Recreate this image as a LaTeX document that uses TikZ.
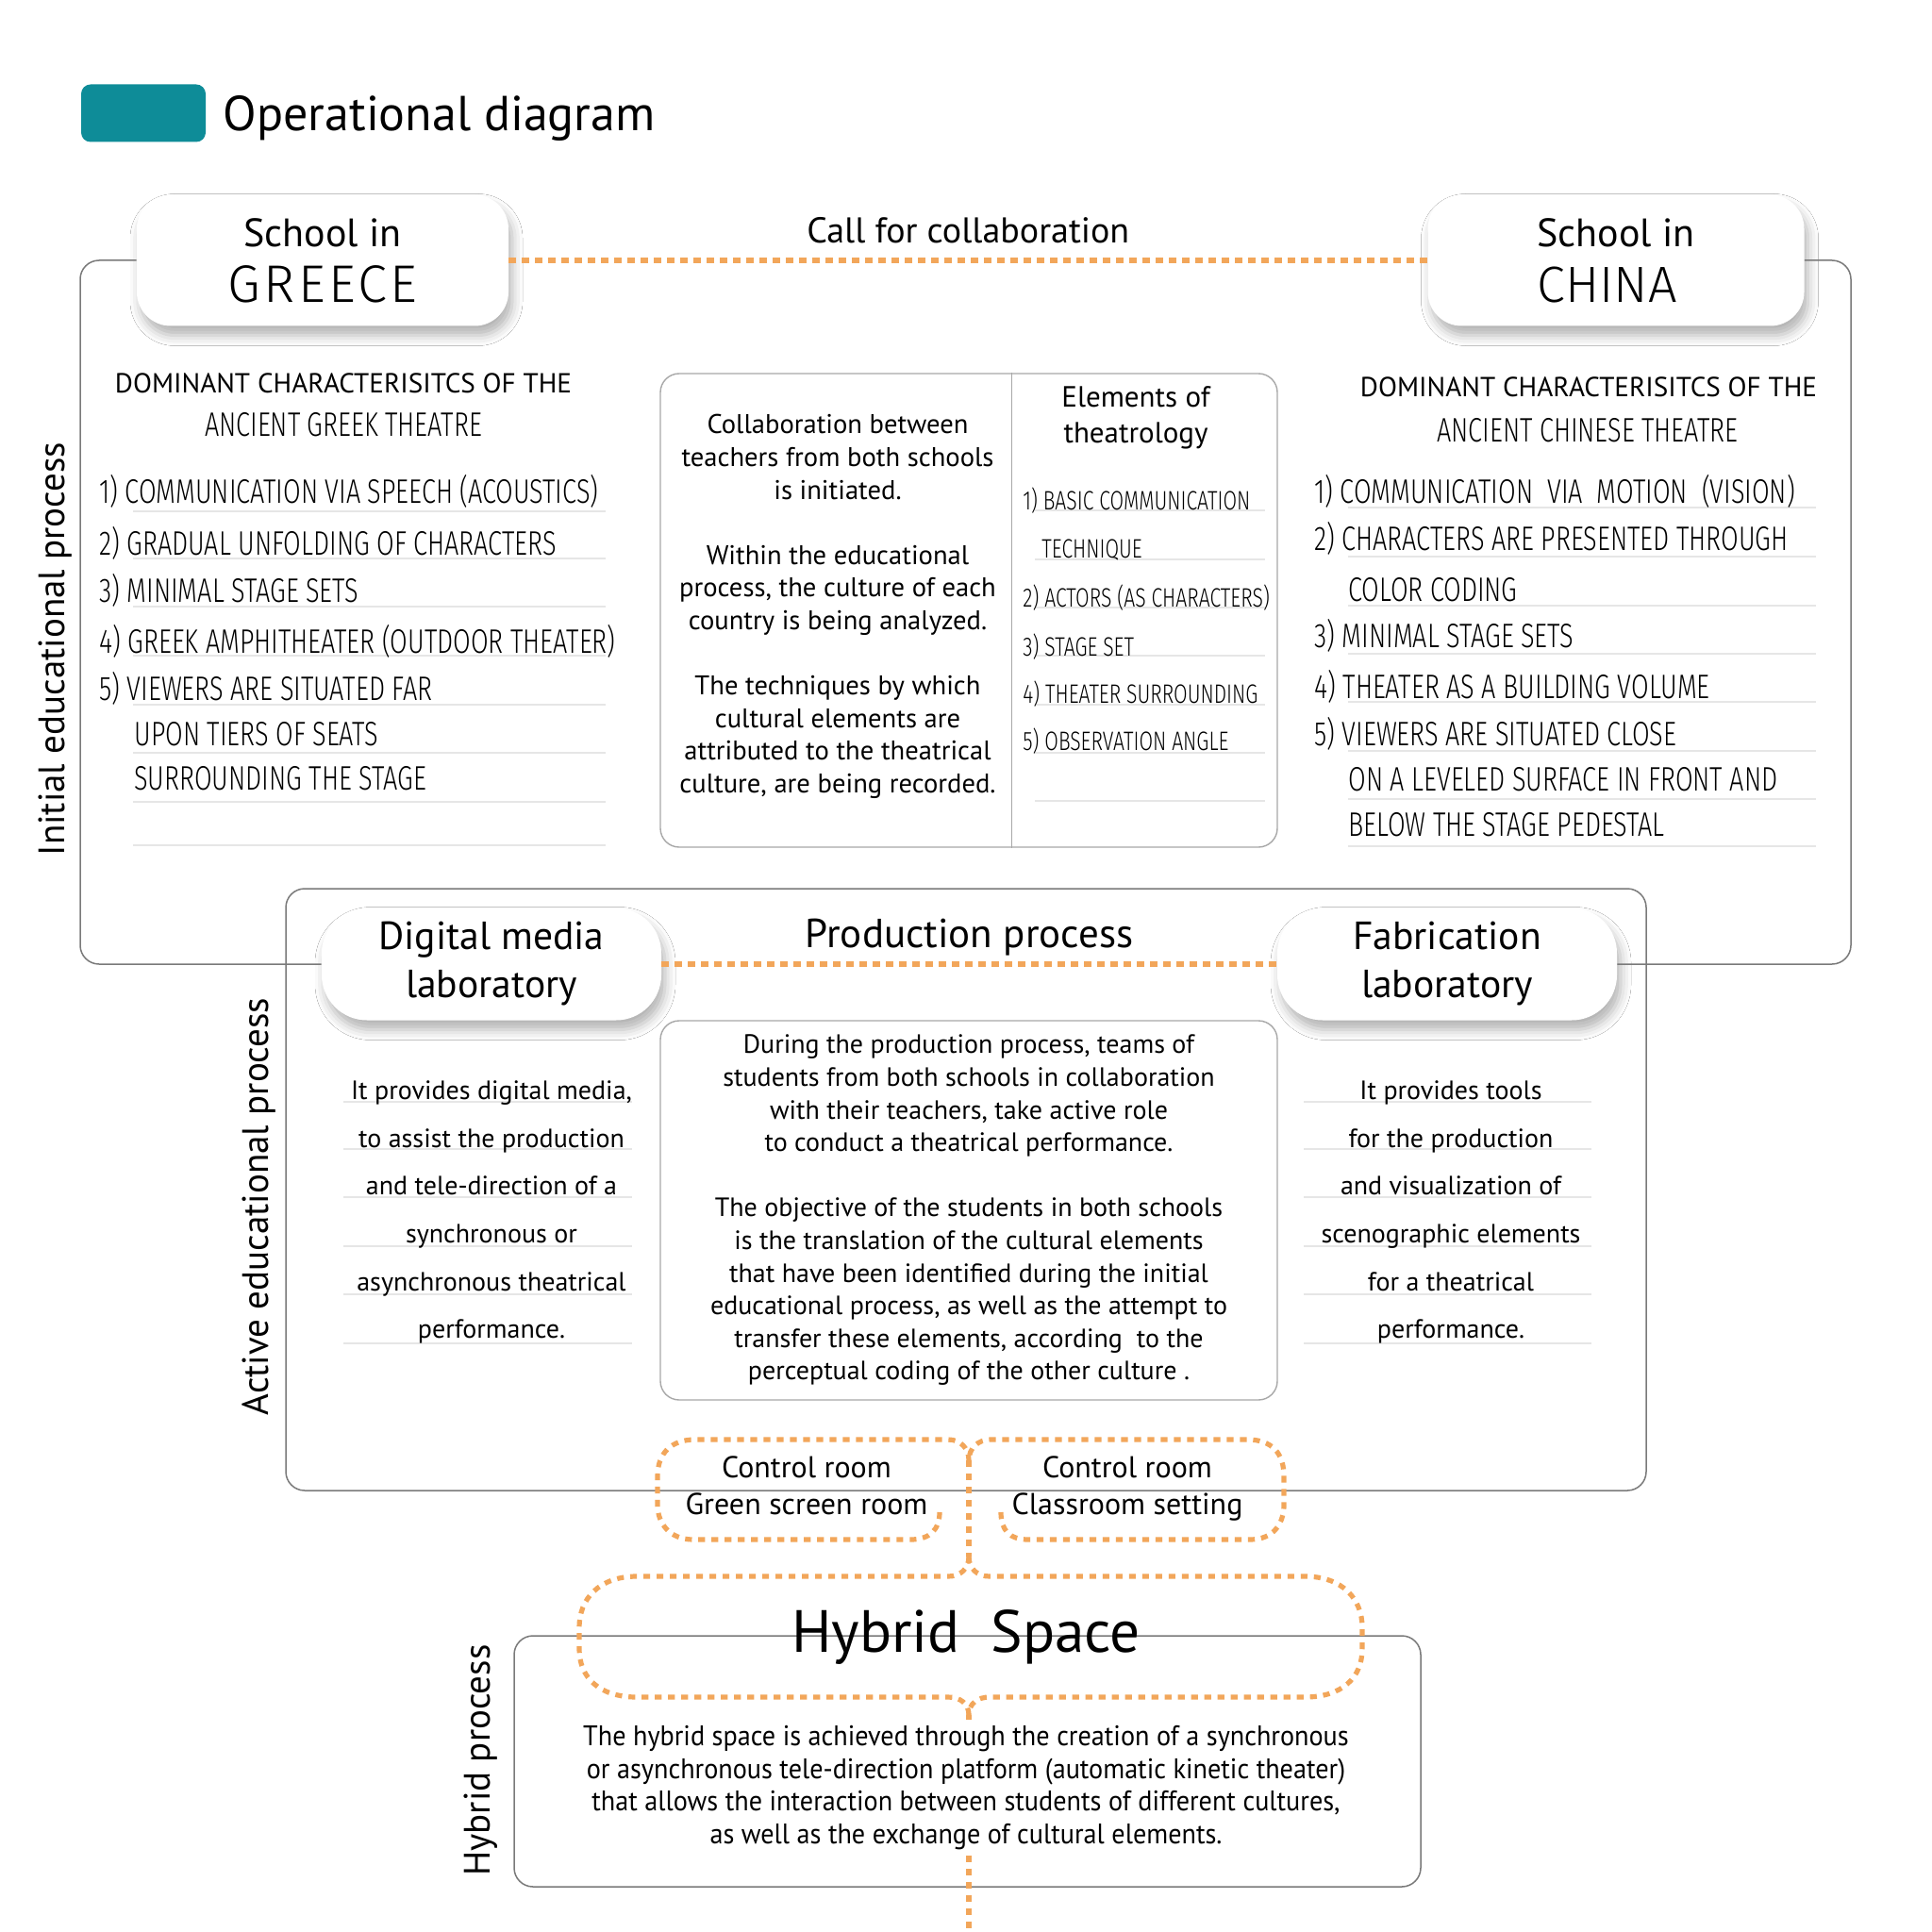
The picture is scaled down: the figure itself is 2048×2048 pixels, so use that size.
\documentclass[tikz,border=0pt]{standalone}
\usepackage{fontspec}
\setmainfont{PT Sans}
\newfontfamily\handfont[FakeStretch=0.75]{Fira Sans Light}
\newfontfamily\handwide{Fira Sans Light}
\newfontfamily\condfont[FakeStretch=0.94]{PT Sans}
\usepackage{xcolor}
\usetikzlibrary{positioning,calc,shadows.blur}

\definecolor{tealbar}{HTML}{0E8C98}
\definecolor{dotorange}{HTML}{F2A65A}
\definecolor{framegray}{HTML}{7A7A7A}
\definecolor{panelgray}{HTML}{A8A8A8}
\definecolor{rulegray}{HTML}{E6E6E6}

\tikzset{
  outerframe/.style={draw=framegray, line width=0.75pt, rounded corners=10pt},
  panel/.style={draw=panelgray, line width=0.7pt, rounded corners=10pt},
  school/.style={rectangle, fill=white, rounded corners=18pt, minimum width=197pt, minimum height=69.5pt, align=center,
    blur shadow={shadow xshift=2pt, shadow yshift=-5pt, shadow blur radius=5.5pt, shadow opacity=30},
    font=\fontsize{21}{29.5}\selectfont},
  lab/.style={school, rounded corners=24pt, minimum width=180pt, minimum height=59.5pt, font=\fontsize{20.8}{25.5}\selectfont},
  orangedots/.style={draw=dotorange, line width=2.6pt, dash pattern=on 3.6pt off 3.4pt},
  hand/.style={inner sep=0pt, anchor=base west, font=\handfont\fontsize{18}{18}\selectfont},
  handsmall/.style={hand, font=\handfont\fontsize{14.1}{14.1}\selectfont},
  underrule/.style={draw=rulegray, line width=0.8pt},
  body/.style={inner sep=0pt, align=center, font=\fontsize{14}{17.3}\selectfont},
  sidelabel/.style={inner sep=0pt, rotate=90, font=\fontsize{19.5}{22}\selectfont},
  plain/.style={inner sep=0pt, align=center}
}

\begin{document}
\begin{tikzpicture}[x=0.5pt, y=-0.5pt]
  \fill[white] (0,0) rectangle (2048,2048);
  \useasboundingbox (0,0) rectangle (2048,2048);

  % title
  \node[fill=tealbar, rounded corners=5pt, minimum width=66pt, minimum height=30.5pt, inner sep=0pt] (tab) at (152,120) {};
  \node[right=9pt of tab, yshift=-3pt, inner sep=0pt, font=\fontsize{26}{30}\selectfont] (title) {Operational diagram};

  % schools and labs
  \node[school] (greece) at (342,276) {School in\\{\handwide\fontsize{28}{29.5}\selectfont\addfontfeature{LetterSpace=6}GREECE}};
  \node[school, align=left, minimum width=199.5pt] (china) at (1713,276) {School in\\{\handwide\fontsize{27}{29.5}\selectfont CHINA}};
  \node[lab] (digital) at (521,1022) {Digital media\\laboratory};
  \node[lab] (fab) at (1534,1022) {Fabrication\\laboratory};

  % frames
  \draw[outerframe] (greece.west) -| (85,1022) -- (digital.west);
  \draw[outerframe] (china.east) -| (1962,1022) -- (fab.east);
  \draw[outerframe] (303,942) rectangle (1745,1580);
  \draw[outerframe] (545,1734) rectangle (1506,2000);

  % links between the pairs
  \draw[orangedots] (greece.east) -- node[above=7.5pt, plain, font=\fontsize{19}{22}\selectfont] (callcollab) {Call for collaboration} (china.west);
  \draw[orangedots] (digital.east) -- node[above=3pt, plain, font=\fontsize{21.5}{25}\selectfont] (prodtitle) {Production process} (fab.west);

  % side labels
  \node[sidelabel] (initlabel) at (59,688) {Initial educational process};
  \node[sidelabel] (activelabel) at (275,1279) {Active educational process};
  \node[sidelabel] (hybridlabel) at (510,1866) {Hybrid process};

  % greek column
  \node[plain, anchor=base, font=\fontsize{14.6}{16}\selectfont] (gkhead) at (364,417) {DOMINANT CHARACTERISITCS OF THE};
  \node[plain, anchor=base, font=\handfont\fontsize{18}{18}\selectfont] (gkname) at (364,463) {ANCIENT GREEK THEATRE};
  \foreach \uy in {542,592,643,695,747,798,850,896}
    \draw[underrule] (141,\uy) -- (642,\uy);
  \foreach \ly/\lx/\lt [count=\i] in {533/105/{1) COMMUNICATION VIA SPEECH (ACOUSTICS)},
      588/105/{2) GRADUAL UNFOLDING OF CHARACTERS}, 638/105/{3) MINIMAL STAGE SETS},
      692/105/{4) GREEK AMPHITHEATER (OUTDOOR THEATER)}, 742/105/{5) VIEWERS ARE SITUATED FAR},
      790/142/{UPON TIERS OF SEATS}, 837/142/{SURROUNDING THE STAGE}}
    \node[hand] (gk\i) at (\lx,\ly) {\lt};

  % chinese column
  \node[plain, anchor=base, font=\fontsize{14.6}{16}\selectfont] (cnhead) at (1684,421) {DOMINANT CHARACTERISITCS OF THE};
  \node[plain, anchor=base, font=\handfont\fontsize{18}{18}\selectfont] (cnname) at (1683,468) {ANCIENT CHINESE THEATRE};
  \foreach \uy in {538,590,642,693,744,796,847,897}
    \draw[underrule] (1429,\uy) -- (1925,\uy);
  \foreach \ly/\lx/\lt [count=\i] in {533/1393/{1) COMMUNICATION\ \ VIA\ \ MOTION\ \ (VISION)},
      583/1393/{2) CHARACTERS ARE PRESENTED THROUGH}, 637/1429/{COLOR CODING},
      686/1393/{3) MINIMAL STAGE SETS}, 740/1393/{4) THEATER AS A BUILDING VOLUME},
      790/1393/{5) VIEWERS ARE SITUATED CLOSE}, 838/1429/{ON A LEVELED SURFACE IN FRONT AND},
      886/1429/{BELOW THE STAGE PEDESTAL}}
    \node[hand] (cn\i) at (\lx,\ly) {\lt};

  % collaboration panel
  \node[panel, minimum width=327pt, minimum height=251pt] (collab) at (1027,647) {};
  \draw[draw=panelgray, line width=0.7pt] ($(collab.north west)!0.569!(collab.north east)$) -- ($(collab.south west)!0.569!(collab.south east)$);
  \node[body, font=\fontsize{14.3}{17.3}\selectfont] (collabtext) at (888,643) {Collaboration between\\teachers from both schools\\is initiated.\\[17.3pt]Within the educational\\process, the culture of each\\country is being analyzed.\\[17.3pt]The techniques by which\\cultural elements are\\attributed to the theatrical\\culture, are being recorded.};
  \node[plain, font=\fontsize{15.5}{19}\selectfont] (elements) at (1204,443) {Elements of\\theatrology};
  \foreach \uy in {541,593,644,695,747,798,849}
    \draw[underrule] (1097,\uy) -- (1341,\uy);
  \foreach \ly/\lx/\lt [count=\i] in {540/1084/{1) BASIC COMMUNICATION}, 591/1104/{TECHNIQUE},
      643/1084/{2) ACTORS (AS CHARACTERS)}, 695/1084/{3) STAGE SET},
      745/1084/{4) THEATER SURROUNDING}, 795/1084/{5) OBSERVATION ANGLE}}
    \node[handsmall] (el\i) at (\lx,\ly) {\lt};

  % production
  \node[panel, minimum width=327pt, minimum height=201pt, body] (prodbox) at (1027,1283) {During the production process, teams of\\students from both schools in collaboration\\with their teachers, take active role\\to conduct a theatrical performance.\\[17.3pt]The objective of the students in both schools\\is the translation of the cultural elements\\that have been identified during the initial\\educational process, as well as the attempt to\\transfer these elements, according\ \ to the\\perceptual coding of the other culture .};

  \foreach \uy in {1168,1218,1269,1321,1372,1424} {
    \draw[underrule] (364,\uy) -- (670,\uy);
    \draw[underrule] (1382,\uy) -- (1687,\uy);
  }
  \node[body, font=\fontsize{14}{25.3}\selectfont] (digitaltext) at (521,1285) {It provides digital media,\\to assist the production\\and tele-direction of a\\synchronous or\\asynchronous theatrical\\performance.};
  \node[body, font=\fontsize{14}{25.3}\selectfont] (fabtext) at (1538,1285) {It provides tools\\for the production\\and visualization of\\scenographic elements\\for a theatrical\\performance.};

  % rooms and hybrid space
  \node[plain, font=\fontsize{16}{19.5}\selectfont] (ctrlgreen) at (855,1578) {\strut Control room\\Green screen room\strut};
  \node[plain, font=\fontsize{16}{19.5}\selectfont] (ctrlclass) at (1195,1578) {\strut Control room\\Classroom setting\strut};
  \node[plain, anchor=base, font=\fontsize{31.6}{34}\selectfont] (hybridtitle) at (1024,1751) {Hybrid\hspace{0.25em} Space};
  \node[body, fill=white, inner ysep=3pt, font=\condfont\fontsize{15}{17.2}\selectfont] (hybridtext) at (1024,1895) {The hybrid space is achieved through the creation of a synchronous\\or asynchronous tele-direction platform (automatic kinetic theater)\\that allows the interaction between students of different cultures,\\as well as the exchange of cultural elements.};

  \coordinate (spinetop) at (1027,1548);
  \coordinate (fork) at (1027,1650);
  \coordinate (cusp) at (1027,1818);
  \coordinate (pagefoot) at (1027,2048);

  \draw[orangedots] (996,1603) .. controls (996,1622) and (985,1632) .. (965,1632) -- (735,1632)
    .. controls (710,1632) and (697,1615) .. (697,1595) -- (697,1565)
    .. controls (697,1540) and (712,1526) .. (737,1526) -- (1005,1526)
    .. controls (1018,1526) and (1027,1535) .. (spinetop);
  \draw[orangedots] (1061,1603) .. controls (1061,1622) and (1070,1632) .. (1090,1632) -- (1325,1632)
    .. controls (1350,1632) and (1361,1615) .. (1361,1595) -- (1361,1565)
    .. controls (1361,1540) and (1348,1526) .. (1322,1526) -- (1050,1526)
    .. controls (1037,1526) and (1027,1535) .. (spinetop);
  \draw[orangedots] (spinetop) -- (fork);
  \draw[orangedots] (fork) .. controls (1027,1663) and (1018,1671) .. (1005,1671) -- (675,1671)
    .. controls (635,1671) and (614,1695) .. (614,1725) -- (614,1748)
    .. controls (614,1778) and (635,1799) .. (675,1799) -- (1005,1799)
    .. controls (1018,1799) and (1027,1806) .. (cusp);
  \draw[orangedots] (fork) .. controls (1027,1663) and (1036,1671) .. (1049,1671) -- (1383,1671)
    .. controls (1423,1671) and (1444,1695) .. (1444,1725) -- (1444,1748)
    .. controls (1444,1778) and (1423,1799) .. (1383,1799) -- (1049,1799)
    .. controls (1036,1799) and (1027,1806) .. (cusp);
  \draw[orangedots] (cusp) -- (cusp |- hybridtext.north);
  \draw[orangedots] (cusp |- hybridtext.south) -- (pagefoot);
\end{tikzpicture}
\end{document}
